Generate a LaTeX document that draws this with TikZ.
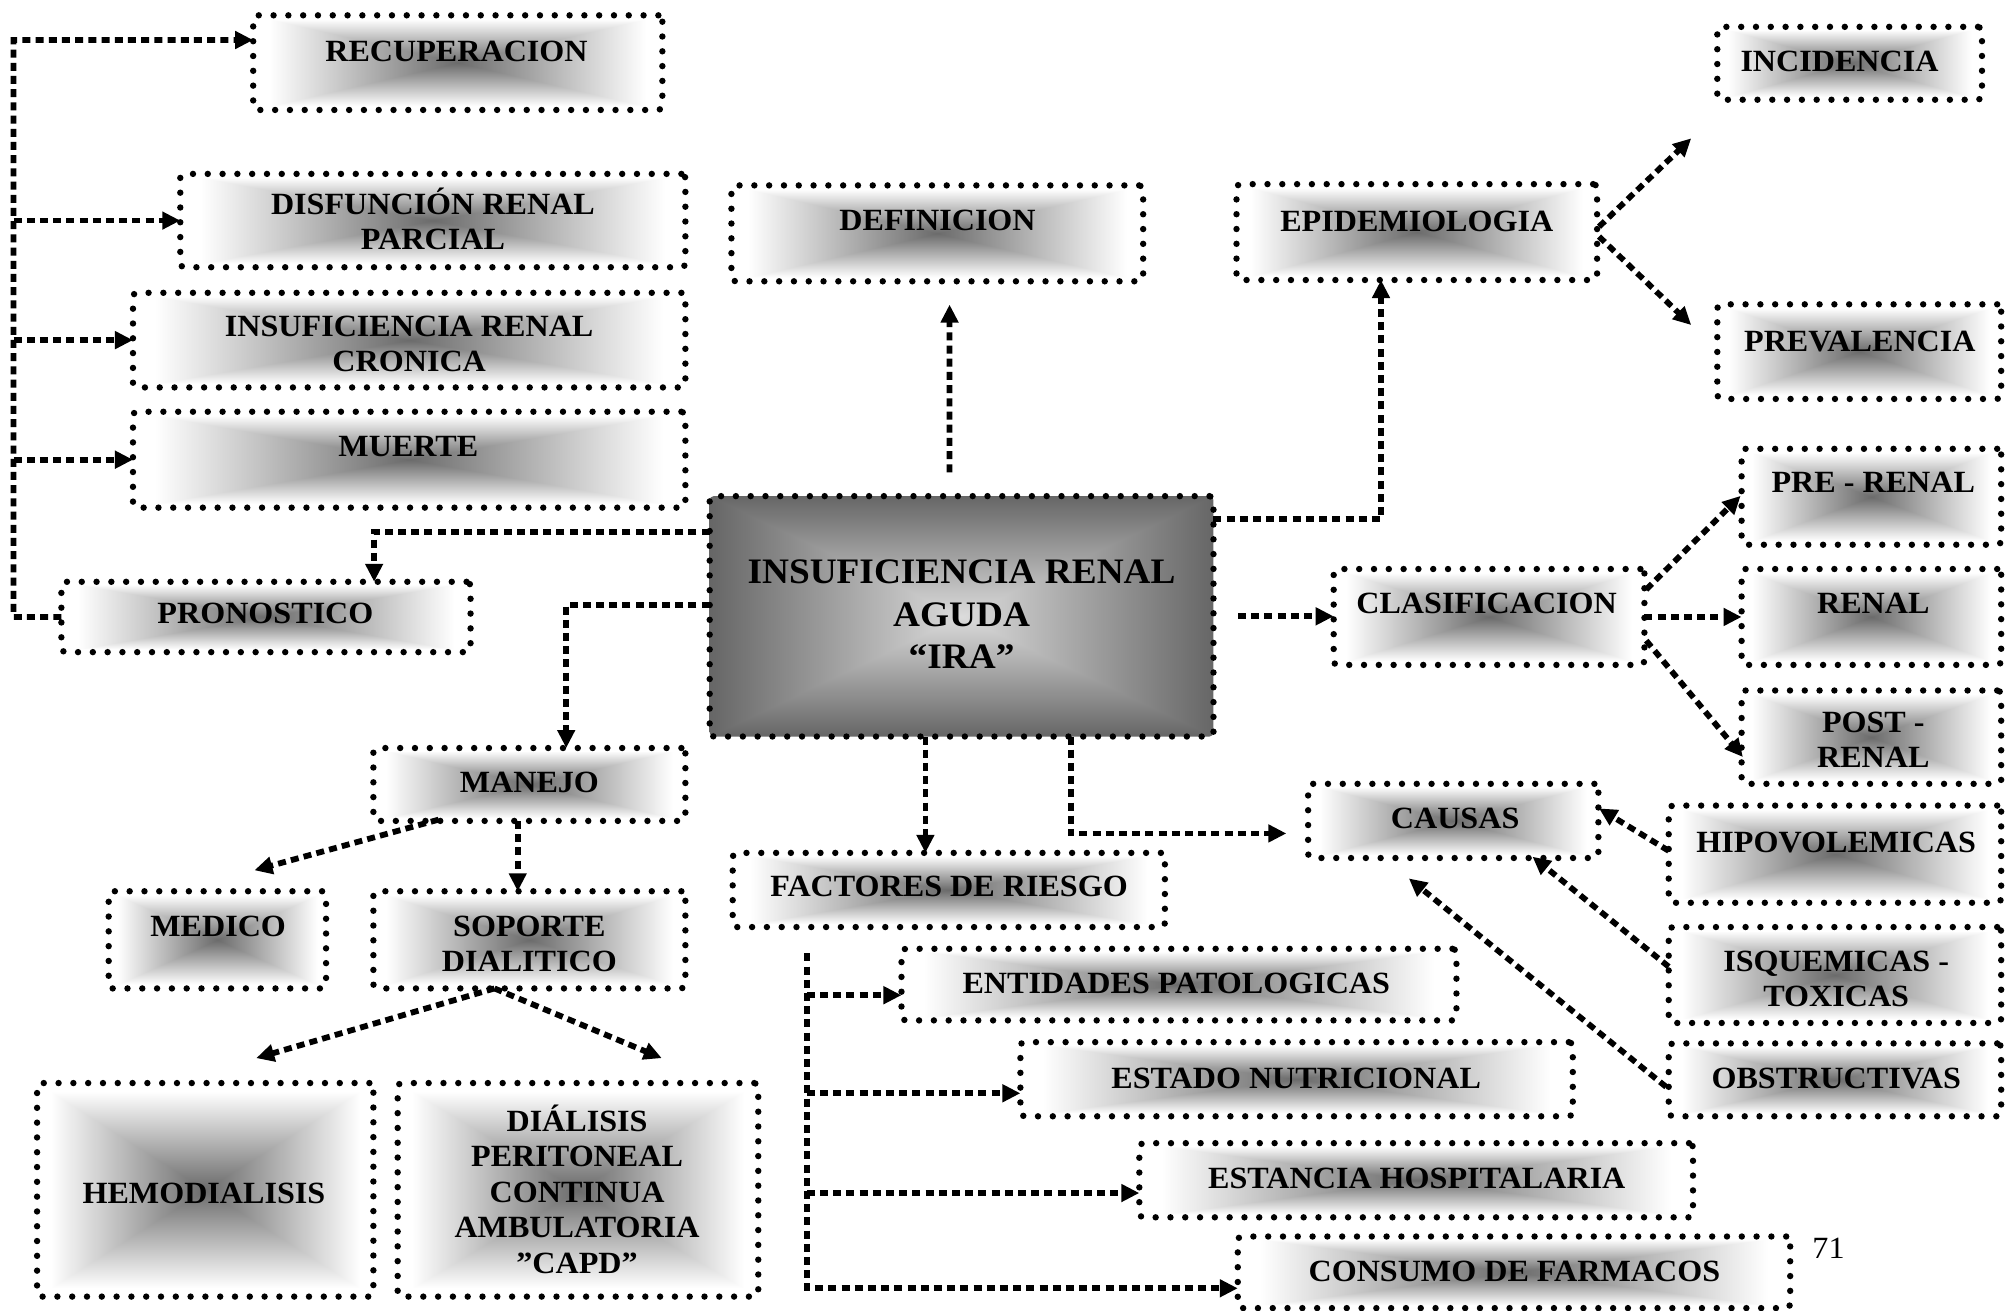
\documentclass[tikz,border=0pt]{standalone}
\usepackage{fontspec}
\setmainfont{Liberation Serif}[FakeStretch=1.04]
\usetikzlibrary{arrows.meta,calc,fit}
\pgfdeclarefunctionalshading{boxshade}{\pgfpoint{-50bp}{-50bp}}{\pgfpoint{50bp}{50bp}}{}{abs exch abs 2 copy lt {exch} if pop 23 div dup 1 gt {pop 1} if 0.58 mul 0.42 add dup dup}
\pgfdeclarefunctionalshading{irashade}{\pgfpoint{-50bp}{-50bp}}{\pgfpoint{50bp}{50bp}}{}{abs exch abs 2 copy lt {exch} if pop 25 div dup 1 gt {pop 1} if 0.46 mul neg 0.86 add dup dup}
\begin{document}
\begin{tikzpicture}[x=0.63935bp,y=-0.63935bp,
  box/.style={draw, line width=3.2bp, dash pattern=on 0bp off 7.4bp, line cap=round,
    rounded corners=2bp, shade, shading=boxshade, inner sep=0pt, outer sep=0pt},
  irabox/.style={box, shading=irashade},
  lbl/.style={font=\bfseries\fontsize{15.5}{17.8}\selectfont, inner sep=0pt, text height=10.26bp, text depth=0pt},
  lblm/.style={font=\bfseries\fontsize{15.5}{17.8}\selectfont, inner sep=0pt, align=center},
  lblira/.style={font=\bfseries\fontsize{18}{21.2}\selectfont, inner sep=0pt, align=center},
  conn/.style={line width=2.9bp, dash pattern=on 4bp off 2.6bp, -{Triangle[length=9bp,width=8.5bp]}}]
\useasboundingbox (0,0) rectangle (1568,1025);

% ---- boxes ----
\node[box, fit={(198,12) (518,86)}] (recup) {};
\node[box, fit={(141,136) (536,209)}] (disf) {};
\node[box, fit={(104,229) (536,303)}] (irc) {};
\node[box, fit={(104,322) (536,397)}] (muerte) {};
\node[box, fit={(48,455) (368,510)}] (pron) {};
\node[box, fit={(572,145) (894,220)}] (def) {};
\node[box, fit={(967,144) (1249,219)}] (epi) {};
\node[box, fit={(1343,21) (1550,78)}] (inc) {};
\node[box, fit={(1343,238) (1565,312)}] (prev) {};
\node[irabox, fit={(555,388) (949,576)}] (ira) {};
\node[box, fit={(1043,445) (1286,520)}] (clas) {};
\node[box, fit={(1362,351) (1565,426)}] (pre) {};
\node[box, fit={(1362,445) (1565,520)}] (renal) {};
\node[box, fit={(1362,540) (1565,613)}] (post) {};
\node[box, fit={(1023,613) (1250,671)}] (causas) {};
\node[box, fit={(1305,630) (1565,706)}] (hipo) {};
\node[box, fit={(1305,725) (1565,800)}] (isq) {};
\node[box, fit={(1305,816) (1565,873)}] (obst) {};
\node[box, fit={(292,585) (536,642)}] (manejo) {};
\node[box, fit={(85,697) (255,773)}] (medico) {};
\node[box, fit={(292,697) (536,773)}] (soporte) {};
\node[box, fit={(29,847) (292,1014)}] (hemo) {};
\node[box, fit={(311,847) (593,1014)}] (dpca) {};
\node[box, fit={(573,667) (911,725)}] (fact) {};
\node[box, fit={(705,742) (1139,798)}] (ent) {};
\node[box, fit={(798,815) (1230,873)}] (est) {};
\node[box, fit={(891,894) (1324,952)}] (estancia) {};
\node[box, fit={(968,967) (1400,1023)}] (cons) {};

% ---- texts ----
\node[lbl] (recupT) at (357,40.4) {RECUPERACION};
\node[lblm] (disfT) at (338.6,171) {DISFUNCIÓN RENAL\\PARCIAL};
\node[lblm] (ircT) at (320,269) {INSUFICIENCIA RENAL\\CRONICA};
\node[lbl] (muerteT) at (319.4,349.2) {MUERTE};
\node[lbl] (pronT) at (207.6,479.9) {PRONOSTICO};
\node[lbl] (defT) at (733.2,172.3) {DEFINICION};
\node[lbl] (epiT) at (1108,173) {EPIDEMIOLOGIA};
\node[lbl] (incT) at (1438.6,48.2) {INCIDENCIA};
\node[lbl] (prevT) at (1454.5,267) {PREVALENCIA};
\node[lblira] (iraT) at (752,480.3) {INSUFICIENCIA RENAL\\AGUDA\\“IRA”};
\node[lbl] (clasT) at (1162.6,471.6) {CLASIFICACION};
\node[lbl] (preT) at (1465,377.3) {PRE - RENAL};
\node[lbl] (renalT) at (1465,471.6) {RENAL};
\node[lblm] (postT) at (1465,578.6) {POST -\\RENAL};
\node[lbl] (causasT) at (1138,640.2) {CAUSAS};
\node[lbl] (hipoT) at (1436,658.4) {HIPOVOLEMICAS};
\node[lblm] (isqT) at (1436,765.4) {ISQUEMICAS -\\TOXICAS};
\node[lbl] (obstT) at (1436,843.5) {OBSTRUCTIVAS};
\node[lbl] (manejoT) at (414,611.5) {MANEJO};
\node[lbl] (medicoT) at (170.6,724.4) {MEDICO};
\node[lblm] (soporteT) at (414,738.4) {SOPORTE\\DIALITICO};
\node[lbl] (hemoT) at (159.5,933.2) {HEMODIALISIS};
\node[lblm] (dpcaT) at (451.3,930) {DIÁLISIS\\PERITONEAL\\CONTINUA\\AMBULATORIA\\”CAPD”};
\node[lbl] (factT) at (742.2,693.4) {FACTORES DE RIESGO};
\node[lbl] (entT) at (919.9,769) {ENTIDADES PATOLOGICAS};
\node[lbl] (estT) at (1013.7,843.3) {ESTADO NUTRICIONAL};
\node[lbl] (estanciaT) at (1108,921.5) {ESTANCIA HOSPITALARIA};
\node[lbl] (consT) at (1184.3,994.5) {CONSUMO DE FARMACOS};
\node[font=\fontsize{15.5}{17.8}\selectfont, inner sep=0pt, text height=10.5bp, text depth=0pt] (pg) at (1430,976) {71};

% ---- connectors ----
\coordinate (bus) at (10.6,482.5);
\draw[conn] (pron.west) -- (bus) |- ($(recup.west)+(0,-17.7)$);
\draw[conn] (disf.west -| bus) -- (disf.west);
\draw[conn] (irc.west -| bus) -- (irc.west);
\draw[conn] (muerte.west -| bus) -- (muerte.west);

\draw[conn] ($(ira.west)+(0,-66)$) -| ($(pron.north)+(84.6,0)$);
\draw[conn] ($(ira.west)+(0,-9)$) -| ($(manejo.north)+(28.8,0)$);
\draw[conn] ($(ira.north)+(-9.4,-18.6)$) -- ($(def.south)+(9.6,18.2)$);
\draw[conn] ($(ira.east)+(0,-76)$) -| ($(epi.south)+(-28,0)$);
\draw[conn] ($(epi.east)+(1.5,-4.2)$) -- ($(inc.west)+(-20.4,58.7)$);
\draw[conn] ($(epi.east)+(1.5,3.5)$) -- ($(prev.west)+(-20.4,-20.8)$);
\draw[conn] ($(ira.east)+(19.2,0)$) -- (clas.west |- ira.east);
\draw[conn] ($(clas.east)+(1.4,-21.5)$) -- ($(pre.west)+(-0.8,-0.7)$);
\draw[conn] (clas.east) -- (renal.west);
\draw[conn] ($(clas.east)+(1.4,18.5)$) -- ($(post.west)+(1,15.5)$);
\draw[conn] ($(ira.south)+(85.4,0)$) |- ($(causas.west)+(-17,9.8)$);
\draw[conn] ($(ira.south)+(-28.3,0)$) -- ($(fact.north)+(-18.3,0)$);
\draw[conn] ($(hipo.west)+(0,-2.6)$) -- ($(causas.east)+(0.5,-9.8)$);
\draw[conn] ($(isq.west)+(0,-6.5)$) -- ($(causas.south)+(62,-1)$);
\draw[conn] ($(obst.west)+(-2,5.5)$) -- ($(causas.south)+(-34.7,16)$);
\draw[conn] ($(manejo.south)+(-71,-1)$) -- ($(medico.north)+(29,-16.4)$);
\draw[conn] ($(manejo.south)+(-9.1,0)$) -- ($(soporte.north)+(-9.1,0)$);
\draw[conn] ($(soporte.south)+(-27.3,0)$) -- ($(hemo.north)+(39.9,-19.5)$);
\draw[conn] ($(soporte.south)+(-27.3,0)$) -- ($(dpca.north)+(65.5,-19.5)$);

\coordinate (fbus) at (631,745.6);
\draw[conn] (fbus) |- ($(cons.west)+(0,12.5)$);
\coordinate (entIn) at ($(ent.west)+(0,8.3)$);
\coordinate (estIn) at ($(est.west)+(0,11)$);
\coordinate (estaIn) at ($(estancia.west)+(0,10)$);
\draw[conn] (entIn -| fbus) -- (entIn);
\draw[conn] (estIn -| fbus) -- (estIn);
\draw[conn] (estaIn -| fbus) -- (estaIn);
\end{tikzpicture}
\end{document}
